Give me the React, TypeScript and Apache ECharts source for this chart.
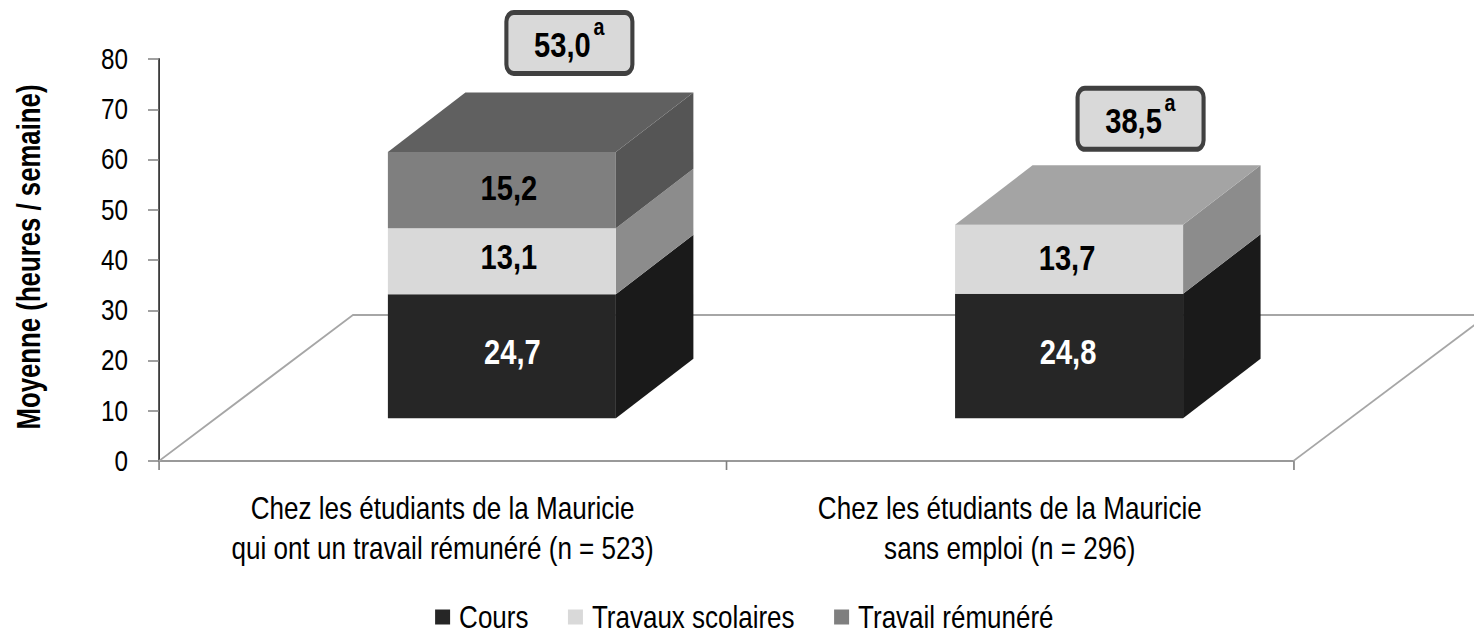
import React, { useEffect, useRef } from "react";
import * as echarts from "echarts";

const categories = [
  "Chez les étudiants de la Mauricie\nqui ont un travail rémunéré (n = 523)",
  "Chez les étudiants de la Mauricie\nsans emploi (n = 296)",
];
const cours = [24.7, 24.8];
const travaux = [13.1, 13.7];
const travail: (number | null)[] = [15.2, null];
const totals = ["53,0", "38,5"];
const seriesNames = ["Cours", "Travaux scolaires", "Travail rémunéré"];
const yAxisTitle = "Moyenne (heures / semaine)";

// The reference uses a condensed sans: the chart is laid out wider and squeezed horizontally.
const S = 0.82;
const W = 1474;
const H = 628;
const v = (px: number) => px / S;

const FONT = "'Liberation Sans',Arial,sans-serif";
const DEPTH_X = v(77.5);
const DEPTH_Y = 59.5;
const BASE_DROP = 42.7;
const SHIFT_X = v(59.3);
const BAR_RATIO = 0.402;
const FLOOR_X = v(194);
const FLOOR_Y = 146;
const FLOOR_RIGHT = v(181);
const CALLOUT_OFFSET = [
  [67.5, -49.5],
  [71.5, -46.5],
];
// nudges of the value labels: per series, per bar
const LABEL_DX = [
  [10.5, -1],
  [7, -2],
  [7, 0],
];
const LABEL_DY = [
  [-4, -4],
  [-4.5, -1.5],
  [-2, 0],
];

const fills = ["#262626", "#d9d9d9", "#7f7f7f"];
const sides = ["#1a1a1a", "#8c8c8c", "#555555"];
const tops = ["#3a3a3a", "#a4a4a4", "#606060"];
const labelColors = ["#ffffff", "#000000", "#000000"];

function segmentSeries(idx: number, values: (number | null)[], below: number[], nextValues: (number | null)[]) {
  return {
    type: "custom",
    name: seriesNames[idx],
    coordinateSystem: "cartesian2d",
    itemStyle: { color: fills[idx] },
    encode: { x: 0, y: 2 },
    data: values.map((val, i) => (val == null ? [i, "-", "-"] : [i, below[i], below[i] + val])),
    silent: true,
    z: 5 + idx,
    renderItem: (_: any, api: any) => {
      const i = api.value(0);
      const start = api.value(1);
      const end = api.value(2);
      if (values[i] == null) return null;
      const w = api.size([1, 0])[0] * BAR_RATIO;
      const c = api.coord([i, start]);
      const e = api.coord([i, end]);
      const x0 = c[0] + SHIFT_X - w / 2;
      const x1 = x0 + w;
      const bottom = c[1] - BASE_DROP;
      const top = e[1] - BASE_DROP;
      const children: any[] = [
        {
          type: "polygon",
          shape: {
            points: [
              [x1, bottom],
              [x1 + DEPTH_X, bottom - DEPTH_Y],
              [x1 + DEPTH_X, top - DEPTH_Y],
              [x1, top],
            ],
          },
          style: { fill: sides[idx] },
        },
        {
          type: "rect",
          shape: { x: x0, y: top, width: w, height: bottom - top },
          style: { fill: fills[idx] },
        },
        {
          type: "text",
          style: {
            text: (values[i] as number).toFixed(1).replace(".", ","),
            x: (x0 + x1) / 2 + v(LABEL_DX[idx][i]),
            y: (top + bottom) / 2 + LABEL_DY[idx][i],
            align: "center",
            verticalAlign: "middle",
            fontFamily: FONT,
            fontWeight: "bold",
            fontSize: 35.5,
            fill: labelColors[idx],
          },
          z2: 10,
        },
      ];
      if (nextValues[i] == null) {
        children.push({
          type: "polygon",
          shape: {
            points: [
              [x0, top],
              [x0 + DEPTH_X, top - DEPTH_Y],
              [x1 + DEPTH_X, top - DEPTH_Y],
              [x1, top],
            ],
          },
          style: { fill: tops[idx] },
        });
      }
      return { type: "group", children };
    },
  };
}

export default function App() {
  const ref = useRef<HTMLDivElement>(null);
  useEffect(() => {
    document.body.style.margin = "0";
    const chart = echarts.init(ref.current!, undefined, { renderer: "svg" });
    const belowTravail = cours.map((val, i) => val + travaux[i]);
    const noNext = [null, null];
    chart.setOption({
      animation: false,
      backgroundColor: "#ffffff",
      textStyle: { fontFamily: FONT },
      grid: { left: v(159), right: v(181), top: 59, bottom: 167 },
      legend: {
        left: v(431),
        top: 601,
        padding: [0, 5, 0, 5],
        itemWidth: v(15),
        itemHeight: 15,
        itemGap: v(39.5),
        selectedMode: false,
        icon: "rect",
        data: seriesNames,
        textStyle: { fontFamily: FONT, fontSize: 31.7, color: "#000", padding: [0, 0, 0, 6] },
      },
      graphic: [
        {
          type: "text",
          x: v(28),
          y: 257,
          rotation: Math.PI / 2,
          scaleX: 0.644,
          style: {
            text: yAxisTitle,
            align: "center",
            verticalAlign: "middle",
            fontFamily: FONT,
            fontWeight: "bold",
            fontSize: 40,
            fill: "#000",
          },
        },
      ],
      xAxis: {
        type: "category",
        data: categories,
        axisLine: { lineStyle: { color: "#999999", width: 2 } },
        axisTick: { show: true, length: 9, lineStyle: { color: "#808080", width: 2 } },
        axisLabel: { fontFamily: FONT, fontSize: 31.8, color: "#000", lineHeight: 40, margin: 27, interval: 0 },
      },
      yAxis: {
        type: "value",
        min: 0,
        max: 80,
        interval: 10,
        splitLine: { show: false },
        axisLine: { show: true, lineStyle: { color: "#262626", width: 2 } },
        axisTick: { show: true, length: v(11), lineStyle: { color: "#808080", width: 1.5 } },
        axisLabel: { fontFamily: FONT, fontSize: 29.6, color: "#000", margin: v(31) },
      },
      series: [
        {
          type: "custom",
          name: "floor",
          coordinateSystem: "cartesian2d",
          data: [[0, 0]],
          silent: true,
          z: 1,
          renderItem: (_: any, api: any) => {
            const band = api.size([1, 0])[0];
            const a = api.coord([0, 0]);
            const x0 = a[0] - band / 2;
            const x1 = x0 + band * 2;
            const y = a[1];
            const st = { stroke: "#a6a6a6", lineWidth: 2, fill: "none" };
            return {
              type: "group",
              children: [
                {
                  type: "polyline",
                  shape: { points: [[x0, y], [x0 + FLOOR_X, y - FLOOR_Y], [x1 + FLOOR_RIGHT, y - FLOOR_Y]] },
                  style: st,
                },
                {
                  type: "line",
                  shape: { x1, y1: y, x2: x1 + FLOOR_RIGHT, y2: y - 136 },
                  style: st,
                },
              ],
            };
          },
        },
        segmentSeries(0, cours, [0, 0], travaux),
        segmentSeries(1, travaux, cours, travail),
        segmentSeries(2, travail, belowTravail, noNext),
        {
          type: "custom",
          name: "totals",
          coordinateSystem: "cartesian2d",
          data: totals.map((_, i) => [i, cours[i] + travaux[i] + (travail[i] ?? 0)]),
          silent: true,
          z: 20,
          renderItem: (p: any, api: any) => {
            const i = api.value(0);
            const c = api.coord([i, api.value(1)]);
            const cx = c[0] + SHIFT_X + v(CALLOUT_OFFSET[i][0]);
            const cy = c[1] - BASE_DROP - DEPTH_Y + CALLOUT_OFFSET[i][1];
            return {
              type: "group",
              children: [
                {
                  type: "rect",
                  shape: { x: cx - v(63), y: cy - 30.5, width: v(126), height: 61, r: 9 },
                  style: { fill: "#d9d9d9", stroke: "#404040", lineWidth: 5 },
                },
                {
                  type: "text",
                  style: {
                    text: totals[p.dataIndex],
                    x: cx - v(7),
                    y: cy + 2,
                    align: "center",
                    verticalAlign: "middle",
                    fontFamily: FONT,
                    fontWeight: "bold",
                    fontSize: 35.5,
                    fill: "#000",
                  },
                },
                {
                  type: "text",
                  style: {
                    text: "a",
                    x: cx + v(24),
                    y: cy - 16,
                    align: "left",
                    verticalAlign: "middle",
                    fontFamily: FONT,
                    fontWeight: "bold",
                    fontSize: 24,
                    fill: "#000",
                  },
                },
              ],
            };
          },
        },
      ],
    });
    return () => chart.dispose();
  }, []);
  return (
    <div style={{ width: W, height: H, overflow: "hidden" }}>
      <div
        ref={ref}
        style={{ width: W / S, height: H, transform: `scaleX(${S})`, transformOrigin: "0 0" }}
      />
    </div>
  );
}
